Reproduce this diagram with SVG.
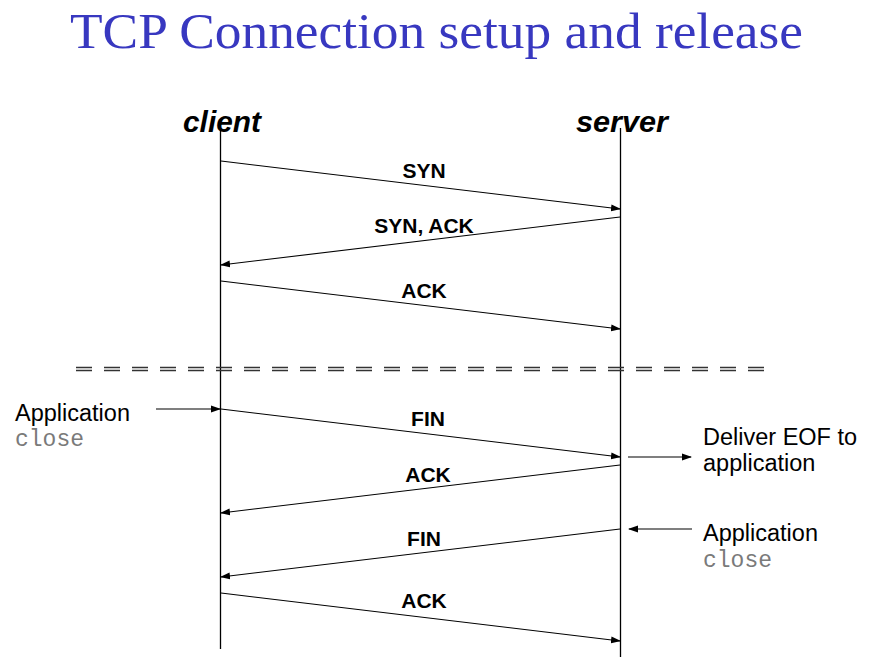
<svg xmlns="http://www.w3.org/2000/svg" width="877" height="662" viewBox="0 0 877 662">
<style>
.title{font-family:"Liberation Serif",serif;font-size:50px;fill:#3838C0}
.actor{font-family:"Liberation Sans",sans-serif;font-size:29px;font-style:italic;font-weight:bold;fill:#000}
.lbl{font-family:"Liberation Sans",sans-serif;font-size:21px;font-weight:bold;fill:#000;text-anchor:middle}
.txt{font-family:"Liberation Sans",sans-serif;font-size:23.5px;fill:#000}
.mono{font-family:"Liberation Mono",monospace;font-size:23px;fill:#7a7a7a}
.life{stroke:#000;stroke-width:1.3;fill:none}
.msg{stroke:#000;stroke-width:1.1;fill:none;marker-end:url(#ah)}
.sep{stroke:#333;stroke-width:1.3;stroke-dasharray:16 12;fill:none}
</style>
<defs>
<marker id="ah" markerWidth="10" markerHeight="8" refX="9" refY="4" orient="auto" markerUnits="userSpaceOnUse">
<path d="M0,0.5 L10,4 L0,7.5 z" fill="#000"/>
</marker>
</defs>
<rect width="877" height="662" fill="#fff"/>
<text class="title" x="70" y="48" textLength="733" lengthAdjust="spacingAndGlyphs">TCP Connection setup and release</text>
<g id="client">
<text class="actor" x="183" y="132" textLength="78" lengthAdjust="spacingAndGlyphs">client</text>
<line class="life" x1="220.5" y1="130" x2="220.5" y2="649"/>
</g>
<g id="server">
<text class="actor" x="576" y="132" textLength="92" lengthAdjust="spacingAndGlyphs">server</text>
<line class="life" x1="620.5" y1="128" x2="620.5" y2="657"/>
</g>
<g id="separator">
<line class="sep" x1="76" y1="367.5" x2="764" y2="367.5"/>
<line class="sep" x1="76" y1="370.5" x2="764" y2="370.5"/>
</g>
<g id="connectors">
<line class="msg" x1="221" y1="161" x2="620" y2="209"/>
<line class="msg" x1="620" y1="217" x2="221" y2="265"/>
<line class="msg" x1="221" y1="281" x2="620" y2="329"/>
<line class="msg" x1="221" y1="409" x2="620" y2="457"/>
<line class="msg" x1="620" y1="465" x2="221" y2="513"/>
<line class="msg" x1="620" y1="529" x2="221" y2="577"/>
<line class="msg" x1="221" y1="593" x2="620" y2="641"/>
<line class="msg" x1="156" y1="409" x2="220" y2="409"/>
<line class="msg" x1="628" y1="457" x2="691" y2="457"/>
<line class="msg" x1="692" y1="529" x2="629" y2="529"/>
</g>
<g id="labels">
<text class="lbl" x="424" y="178">SYN</text>
<text class="lbl" x="424" y="233">SYN, ACK</text>
<text class="lbl" x="424" y="298">ACK</text>
<text class="lbl" x="428" y="426">FIN</text>
<text class="lbl" x="428" y="482">ACK</text>
<text class="lbl" x="424" y="546">FIN</text>
<text class="lbl" x="424" y="608">ACK</text>
</g>
<g id="app-close-client">
<text class="txt" x="15" y="421">Application</text>
<text class="mono" x="15" y="446">close</text>
</g>
<g id="deliver-eof">
<text class="txt" x="703" y="445">Deliver EOF to</text>
<text class="txt" x="703" y="471">application</text>
</g>
<g id="app-close-server">
<text class="txt" x="703" y="541">Application</text>
<text class="mono" x="703" y="567">close</text>
</g>
</svg>
